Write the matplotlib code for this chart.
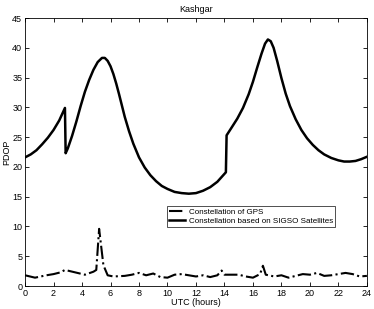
import numpy as np
import matplotlib
matplotlib.use("Agg")
from matplotlib import pyplot as plt

plt.rcParams['font.family'] = ['Liberation Sans', 'DejaVu Sans']

# constelacion SIGSO (PDOP)
t_sigso = [0.0, 0.4, 0.8, 1.2, 1.6, 2.0, 2.4, 2.8,
           2.85, 3.0, 3.3, 3.6, 3.9, 4.2, 4.5, 4.8, 5.1, 5.4, 5.6, 5.8, 6.0,
           6.2, 6.4, 6.6, 6.8, 7.0, 7.3, 7.6, 8.0, 8.4, 8.8, 9.2, 9.6, 10.0,
           10.5, 11.0, 11.5, 12.0, 12.5, 13.0, 13.5, 14.1,
           14.15, 14.5, 14.9, 15.3, 15.7, 16.0, 16.3, 16.6, 16.85, 17.05,
           17.25, 17.45, 17.7, 18.0, 18.3, 18.6, 19.0, 19.4, 19.8, 20.2, 20.6,
           21.0, 21.5, 22.0, 22.4, 22.8, 23.2, 23.6, 24.0]
pdop_sigso = [21.6, 22.1, 22.8, 23.8, 24.9, 26.2, 27.8, 29.9,
              22.3, 23.1, 25.2, 27.6, 30.2, 32.6, 34.6, 36.3, 37.6, 38.3, 38.3,
              37.8, 36.9, 35.6, 34.0, 32.2, 30.3, 28.4, 26.0, 23.9, 21.6, 19.9,
              18.6, 17.6, 16.8, 16.3, 15.8, 15.6, 15.5, 15.6, 16.0, 16.6, 17.5,
              19.1,
              25.3, 26.6, 28.1, 29.9, 32.2, 34.3, 36.7, 39.0, 40.7, 41.4,
              41.1, 40.0, 37.8, 34.9, 32.3, 30.2, 28.0, 26.2, 24.8, 23.7, 22.8,
              22.1, 21.5, 21.1, 20.9, 20.9, 21.0, 21.3, 21.7]

# constelacion GPS (PDOP)
t_gps = [0.0, 0.7, 1.5, 2.0, 2.5, 2.8, 3.5, 4.2, 4.8, 5.0, 5.2, 5.5, 5.8, 6.2,
         7.0, 7.5, 8.0, 8.5, 9.0, 9.5, 10.0, 10.5, 11.0, 11.5, 12.0, 12.5, 13.0,
         13.5, 13.8, 14.0, 15.0, 15.5, 16.0, 16.5, 16.7, 16.9, 17.5, 18.0, 18.5,
         19.0, 19.5, 20.0, 20.5, 21.0, 21.5, 22.0, 22.5, 23.0, 23.5, 24.0]
pdop_gps = [1.8, 1.4, 1.8, 2.0, 2.3, 2.7, 2.3, 1.9, 2.4, 2.7, 9.6, 3.5, 1.8, 1.6,
            1.7, 1.9, 2.2, 1.8, 2.1, 1.5, 1.4, 1.9, 2.0, 1.8, 1.6, 1.8, 1.5,
            1.8, 2.6, 1.9, 1.9, 1.6, 1.4, 2.0, 3.4, 1.9, 1.6, 1.8, 1.4, 1.7,
            2.0, 1.9, 2.2, 1.7, 1.8, 2.0, 2.2, 2.0, 1.6, 1.7]

fig = plt.figure(figsize=(3.74, 3.09), dpi=100)
ax = fig.add_axes([0.067, 0.0744, 0.914, 0.8673])
ax.plot(t_gps, pdop_gps, color='black', linestyle='-.', linewidth=1.5,
        label='Constellation of GPS')
ax.plot(t_sigso, pdop_sigso, color='black', linestyle='-', linewidth=1.8,
        label='Constellation based on SIGSO Satellites')

ax.set_xlim(0, 24)
ax.set_ylim(0, 45)
ax.set_xticks(np.arange(0, 25, 2))
ax.set_yticks(np.arange(0, 46, 5))
ax.tick_params(direction='in', top=True, right=True, labelsize=6.5,
               length=3, width=0.6, pad=2)
for s in ax.spines.values():
    s.set_linewidth(0.6)
ax.set_title('Kashgar', fontsize=6.5, pad=4)
ax.set_xlabel('UTC (hours)', fontsize=6.5, labelpad=0)
ax.set_ylabel('PDOP', fontsize=6.5, labelpad=1)
leg = ax.legend(loc='upper left', bbox_to_anchor=(0.415, 0.30), fontsize=5.8,
                frameon=True, fancybox=False, edgecolor='black',
                handlelength=2.0, borderpad=0.3, labelspacing=0.2,
                handletextpad=0.4, borderaxespad=0)
leg.get_frame().set_linewidth(0.6)

fig.savefig('out.png', dpi=100)
